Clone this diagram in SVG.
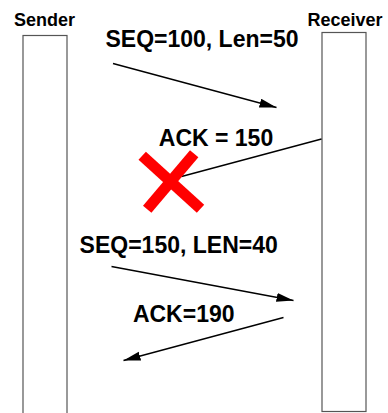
<svg xmlns="http://www.w3.org/2000/svg" width="388" height="413" viewBox="0 0 388 413">
<style>
.lbl{font-family:"Liberation Sans",Arial,sans-serif;font-weight:bold;fill:#000;text-anchor:middle}
.hdr{font-size:18px}
.msg{font-size:23px}
.life{fill:#fff;stroke:#555;stroke-width:1.2}
.conn{stroke:#000;stroke-width:1.3;fill:none}
</style>
<defs>
<marker id="ah" markerUnits="userSpaceOnUse" markerWidth="18" markerHeight="10" refX="17" refY="4.5" orient="auto">
<path d="M0,0 L17,4.5 L0,9 z" fill="#000"/>
</marker>
</defs>
<rect width="388" height="413" fill="#fff"/>
<g id="sender">
<rect class="life" x="23" y="35.5" width="44" height="390"/>
<text class="lbl hdr" x="44.5" y="26">Sender</text>
</g>
<g id="receiver">
<rect class="life" x="322" y="32.5" width="44" height="379"/>
<text class="lbl hdr" x="345" y="25.5">Receiver</text>
</g>
<g id="connectors">
<line class="conn" x1="113" y1="63.5" x2="276.5" y2="107.5" marker-end="url(#ah)"/>
<line class="conn" x1="321.5" y1="139" x2="181.5" y2="176.5"/>
<line class="conn" x1="111.5" y1="266.5" x2="293.5" y2="300.5" marker-end="url(#ah)"/>
<line class="conn" x1="283.5" y1="317.5" x2="123.5" y2="360.5" marker-end="url(#ah)"/>
</g>
<g id="lost">
<line x1="142.2" y1="155.8" x2="200.5" y2="208.8" stroke="#f00" stroke-width="11"/>
<line x1="194.2" y1="153.7" x2="147.2" y2="209.3" stroke="#f00" stroke-width="11"/>
</g>
<g id="labels">
<text class="lbl msg" x="202" y="47">SEQ=100, Len=50</text>
<text class="lbl msg" x="216" y="146">ACK = 150</text>
<text class="lbl msg" x="178.7" y="253">SEQ=150, LEN=40</text>
<text class="lbl msg" x="183.7" y="321.5">ACK=190</text>
</g>
</svg>
